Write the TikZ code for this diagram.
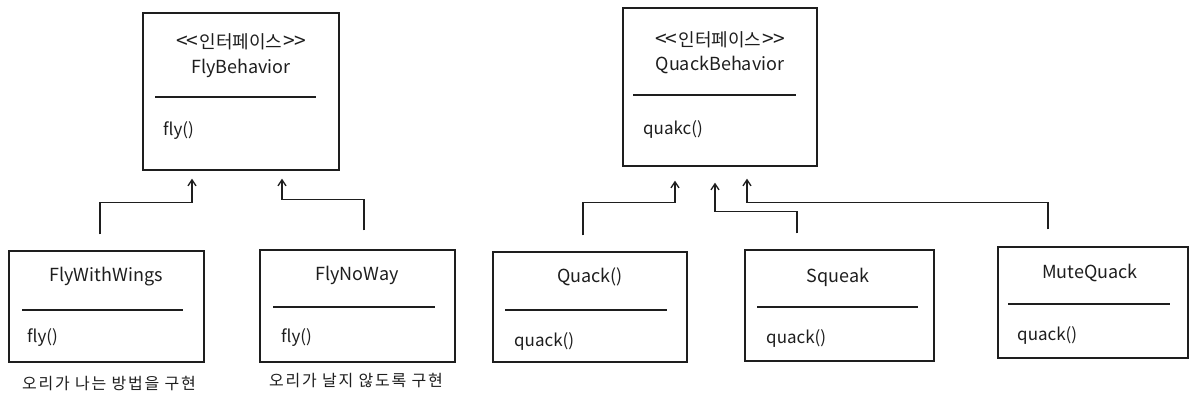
\documentclass[tikz,border=0pt]{standalone}
\usepackage{fontspec}
\setmainfont{Noto Sans CJK KR}
\usetikzlibrary{arrows.meta,calc}
\definecolor{ink}{HTML}{1E1E1E}
\newcommand{\stereo}{{\fontsize{21}{21}\selectfont<\kern-1pt<}\kern1pt 인터페이스\kern1pt{\fontsize{21}{21}\selectfont>\kern-1pt>}}
\tikzset{
  box/.style={draw=ink, line width=1.4pt, fill=white},
  title/.style={text=ink, font=\fontsize{18}{20}\selectfont, inner sep=0pt},
  method/.style={text=ink, font=\fontsize{17}{19}\selectfont, inner sep=0pt, anchor=west},
  divline/.style={draw=ink, line width=1.8pt},
  caption/.style={text=ink, font=\addfontfeatures{LetterSpace=11}\fontsize{16}{18}\selectfont, inner sep=0pt},
  arr/.style={draw=ink, line width=1.3pt, -{Straight Barb[length=6pt,width=8pt,line width=1.3pt]}}
}
\begin{document}
\begin{tikzpicture}[x=1pt,y=-1pt]
\useasboundingbox[fill=white] (0,0) rectangle (1201,405);

% ---------- FlyBehavior ----------
\node[box, minimum width=196pt, minimum height=157pt] (fb) at (241,91.5) {};
\node[title] (fbst) at (241,42) {\stereo};
\node[title] (fbname) at (241,68) {FlyBehavior};
\draw[divline] (155,97) -- (316,97);
\node[method] (fbm) at (163,131) {fly()};

% ---------- QuackBehavior ----------
\node[box, minimum width=194pt, minimum height=158pt] (qb) at (720,87) {};
\node[title] (qbst) at (720,40) {\stereo};
\node[title] (qbname) at (720,65) {QuackBehavior};
\draw[divline] (633,95) -- (796,95);
\node[method] (qbm) at (643,129) {quakc()};

% ---------- FlyWithWings ----------
\node[box, minimum width=195pt, minimum height=111pt] (fww) at (106.5,306.5) {};
\node[title] (fwwname) at (106,277) {FlyWithWings};
\draw[divline] (22,310) -- (183,310);
\node[method] (fwwm) at (27,338) {fly()};
\node[caption] (fwwcap) at (109,384) {오리가 나는 방법을 구현};

% ---------- FlyNoWay ----------
\node[box, minimum width=195pt, minimum height=112pt] (fnw) at (357.5,306) {};
\node[title] (fnwname) at (357,275) {FlyNoWay};
\draw[divline] (273,307) -- (435,307);
\node[method] (fnwm) at (281,338) {fly()};
\node[caption] (fnwcap) at (356,381) {오리가 날지 않도록 구현};

% ---------- Quack ----------
\node[box, minimum width=194pt, minimum height=110pt] (qk) at (590,307) {};
\node[title] (qkname) at (590,277) {Quack()};
\draw[divline] (505,310) -- (667,310);
\node[method] (qkm) at (514,341) {quack()};

% ---------- Squeak ----------
\node[box, minimum width=189pt, minimum height=111pt] (sq) at (839.5,305.5) {};
\node[title] (sqname) at (838,277) {Squeak};
\draw[divline] (757,307) -- (918,307);
\node[method] (sqm) at (766,338) {quack()};

% ---------- MuteQuack ----------
\node[box, minimum width=190pt, minimum height=111pt] (mq) at (1093,302.5) {};
\node[title] (mqname) at (1090,273) {MuteQuack};
\draw[divline] (1008,304) -- (1170,304);
\node[method] (mqm) at (1017,335) {quack()};

% ---------- connectors ----------
\draw[arr, shorten <=16pt, shorten >=8pt] ([xshift=-6.5pt]fww.north) -- ++(0,-48) -| ([xshift=-49pt]fb.south);
\draw[arr, shorten <=19pt, shorten >=8pt] ([xshift=6.5pt]fnw.north) -- ++(0,-50) -| ([xshift=41pt]fb.south);
\draw[arr, shorten <=16pt, shorten >=14pt] ([xshift=-7pt]qk.north) -- ++(0,-49) -| ([xshift=-45pt]qb.south);
\draw[arr, shorten <=16pt, shorten >=16pt] ([xshift=-42.5pt]sq.north) -- ++(0,-38) -| ([xshift=-5pt]qb.south);
\draw[arr, shorten <=17pt, shorten >=12pt] ([xshift=-45pt]mq.north) -- ++(0,-44) -| ([xshift=27pt]qb.south);
\end{tikzpicture}
\end{document}
